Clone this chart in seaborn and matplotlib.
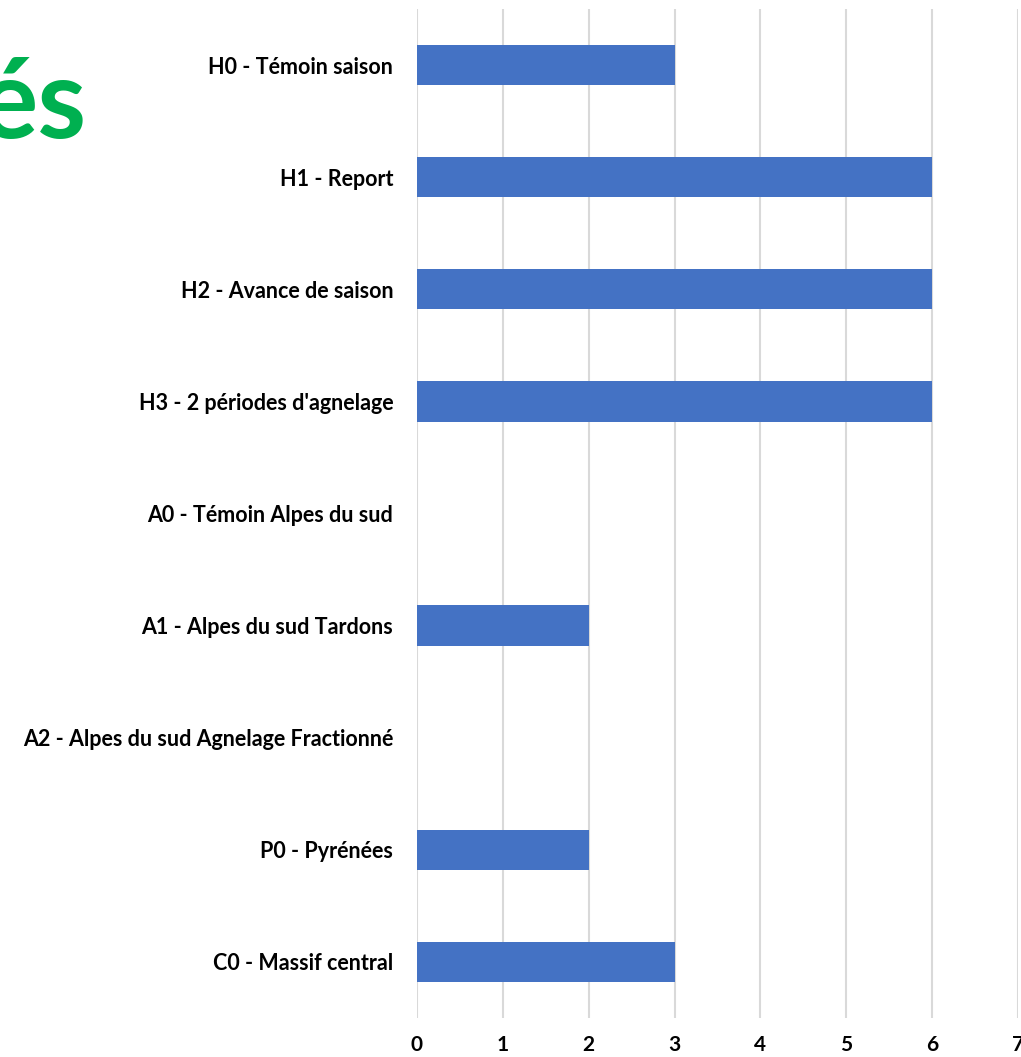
import pandas as pd
import seaborn as sns
import matplotlib.pyplot as plt

categories = [
    "H0 - Témoin saison",
    "H1 - Report",
    "H2 - Avance de saison",
    "H3 - 2 périodes d'agnelage",
    "A0 - Témoin Alpes du sud",
    "A1 - Alpes du sud Tardons",
    "A2 - Alpes du sud Agnelage Fractionné",
    "P0 - Pyrénées",
    "C0 - Massif central",
]
values = [3, 6, 6, 6, 0, 2, 0, 2, 3]
xticks = [0, 1, 2, 3, 4, 5, 6, 7]

df = pd.DataFrame({"cas": categories, "n": values})

sns.set_style("white")
plt.rcParams["font.family"] = ["Lato", "DejaVu Sans"]

fig = plt.figure(figsize=(10.21, 10.57), dpi=100)
ax = fig.add_axes([0.4084, 0.0369, 0.5886, 0.9546])

sns.barplot(data=df, x="n", y="cas", orient="h", color="#4472C4",
            width=0.36, saturation=1, linewidth=0, ax=ax, zorder=3)

ax.set_xlim(0, 7)
ax.set_ylim(8.5, -0.5)
ax.set_xticks(xticks)
ax.set_xticklabels([str(t) for t in xticks], fontsize=15, fontweight="bold")
for lab in ax.get_yticklabels():
    lab.set_fontsize(15.5)
    lab.set_fontweight("bold")
ax.xaxis.grid(True, color="#D9D9D9", lw=1.5, zorder=0)
ax.set_axisbelow(True)
ax.tick_params(axis="y", length=0, pad=17, labelcolor="black")
ax.tick_params(axis="x", length=0, pad=12, labelcolor="black")
ax.set_xlabel("")
ax.set_ylabel("")
sns.despine(ax=ax, left=True, bottom=True)

fig.text(86 / 1021, 1 - 138 / 1057, "és", ha="right", va="baseline",
         fontsize=80, fontweight="bold", color="#00B050")

plt.savefig("out.png", dpi=100)
